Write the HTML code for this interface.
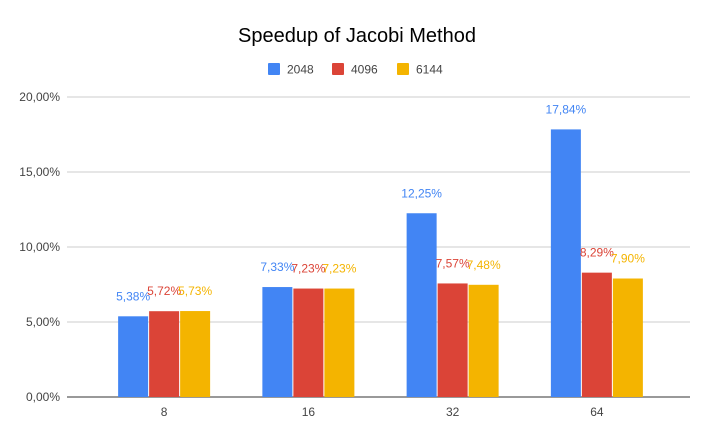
<!DOCTYPE html>
<html><head><meta charset="utf-8"><style>
body{margin:0;background:#fff;font-family:"Liberation Sans",Arial,sans-serif}
</style></head><body>
<svg id="chart" width="713" height="441" viewBox="0 0 713 441">
<rect width="713" height="441" fill="#fff"/>
<text x="357" y="42" text-anchor="middle" font-size="20" fill="#000">Speedup of Jacobi Method</text>
<g id="legend"></g>
<g id="grid"></g><g id="bars"></g><g id="labels"></g>
</svg>
<script>
const categories=["8","16","32","64"];
const seriesNames=["2048","4096","6144"];
const s2048=[5.38,7.33,12.25,17.84];
const s4096=[5.72,7.23,7.57,8.29];
const s6144=[5.73,7.23,7.48,7.90];
const yTicks=[0,5,10,15,20];
const colors=["#4285f4","#db4437","#f4b400"];
const series=[s2048,s4096,s6144];
const NS="http://www.w3.org/2000/svg";
const x0=67,x1=690,y0=397,yTop=97,yMax=20;
const cx0=92,cx1=669;
const yScale=v=>y0-(v/yMax)*(y0-yTop);
const groupW=(cx1-cx0)/categories.length;
const barW=30,gap=1;
const fmt=v=>v.toFixed(2).replace('.',',')+'%';
function mk(tag,attrs,parent){const e=document.createElementNS(NS,tag);for(const k in attrs)e.setAttribute(k,attrs[k]);document.getElementById(parent).appendChild(e);return e;}
yTicks.forEach(t=>{
 const y=yScale(t);
 const l=mk('line',{x1:x0,x2:x1,y1:y,y2:y,stroke:t===0?'#333':'#ccc','stroke-width':1},'grid');
 
 
 const tx=mk('text',{x:60,y:y+4,'text-anchor':'end','font-size':12,fill:'#444'},'grid');
 tx.textContent=t.toFixed(2).replace('.',',')+'%';
 
 
});
categories.forEach((c,i)=>{
 const cx=cx0+groupW*(i+0.5);
 const tx=mk('text',{x:cx,y:416,'text-anchor':'middle','font-size':12,fill:'#444'},'grid');
 tx.textContent=c;
 
 
 series.forEach((s,j)=>{
  const bx=cx-1.5*barW-gap+j*(barW+gap);
  const y=yScale(s[i]);
  const r=mk('rect',{x:bx,y:y,width:barW,height:y0-y,fill:colors[j]},'bars');
  
  
  const lb=mk('text',{x:bx+barW/2,y:y-16,'text-anchor':'middle','font-size':12,fill:colors[j]},'labels');
  lb.textContent=fmt(s[i]);
  
  
 });
});
const legX=[268,332,397];
seriesNames.forEach((n,j)=>{
 const r=mk('rect',{x:legX[j],y:63,width:12,height:12,fill:colors[j],rx:1},'legend');
 
 
 const t=mk('text',{x:legX[j]+19,y:73.5,'font-size':12,fill:'#444'},'legend');
 t.textContent=n;
 
 
});
</script>
</body></html>
